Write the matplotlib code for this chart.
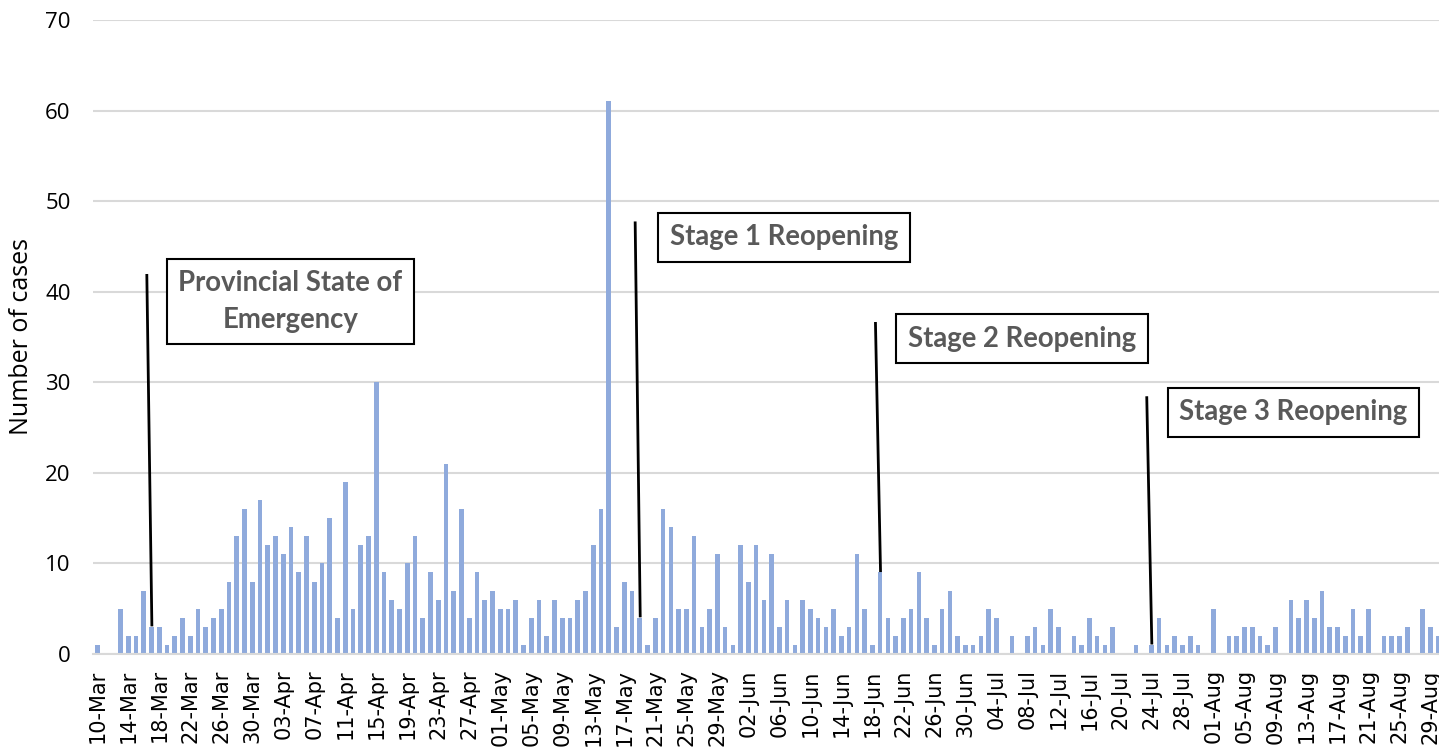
import numpy as np
import pandas as pd
import matplotlib
matplotlib.use("Agg")
import matplotlib.pyplot as plt

# --- daily case counts, 10-Mar to 30-Aug ---
start_date = "2020-03-10"
cases = [
    1, 0, 0, 5, 2, 2, 7, 3, 3, 1, 2, 4, 2, 5, 3, 4, 5, 8, 13, 16, 8, 17,      # Mar
    12, 13, 11, 14, 9, 13, 8, 10, 15, 4, 19, 5, 12, 13, 30, 9, 6, 5, 10, 13,  # Apr
    4, 9, 6, 21, 7, 16, 4, 9, 6, 7,
    5, 5, 6, 1, 4, 6, 2, 6, 4, 4, 6, 7, 12, 16, 61, 3, 8, 7, 4, 1, 4, 16,     # May
    14, 5, 5, 13, 3, 5, 11, 3, 1,
    12, 8, 12, 6, 11, 3, 6, 1, 6, 5, 4, 3, 5, 2, 3, 11, 5, 1, 9, 4, 2, 4,     # Jun
    5, 9, 4, 1, 5, 7, 2, 1,
    1, 2, 5, 4, 0, 2, 0, 2, 3, 1, 5, 3, 0, 2, 1, 4, 2, 1, 3, 0, 0, 1, 0, 1,   # Jul
    4, 1, 2, 1, 2, 1, 0,
    5, 0, 2, 2, 3, 3, 2, 1, 3, 0, 6, 4, 6, 4, 7, 3, 3, 2, 5, 2, 5, 0, 2, 2,   # Aug
    2, 3, 0, 5, 3, 2,
]
dates = pd.date_range(start_date, periods=len(cases), freq="D")

# --- events: (label, date of event) ---
event_labels = ["Provincial State of\nEmergency", "Stage 1 Reopening",
                "Stage 2 Reopening", "Stage 3 Reopening"]
event_dates = ["2020-03-17", "2020-05-19", "2020-06-19", "2020-07-24"]

bar_color = "#8FAADC"
grid_color = "#D9D9D9"
text_grey = "#595959"

fig = plt.figure(figsize=(14.39, 7.48), dpi=100)
ax = fig.add_axes([0.0646, 0.1257, 0.9354, 0.8476])

x = np.arange(len(cases))
ax.bar(x, cases, width=0.6, color=bar_color, zorder=2)

ax.set_xlim(-0.55, 173.1)
ax.set_ylim(0, 70)
ax.set_yticks(range(0, 71, 10))
ax.yaxis.grid(True, color=grid_color, linewidth=1.5)
ax.set_axisbelow(True)

tick_idx = x[::4]
ax.set_xticks(tick_idx)
ax.set_xticklabels([dates[i].strftime("%d-%b") for i in tick_idx],
                   rotation=90, fontsize=15, family="DejaVu Sans")
ax.tick_params(axis="x", length=0, pad=11)
ax.tick_params(axis="y", length=0, pad=16, labelsize=16)
for lab in ax.get_yticklabels():
    lab.set_family("Open Sans")

for s in ["top", "right", "left"]:
    ax.spines[s].set_visible(False)
ax.spines["bottom"].set_color(grid_color)
ax.spines["bottom"].set_linewidth(1.5)

ax.set_ylabel("Number of cases", fontsize=18, family="Open Sans", labelpad=8)

# --- event markers: line from label down to the day's bar ---
line_tops = [41.8, 47.6, 36.5, 28.3]
box_pos = [(24.9, 38.9), (88.6, 46.0), (119.3, 34.8), (154.3, 26.7)]
for lab, d, top, (bx, by) in zip(event_labels, event_dates, line_tops, box_pos):
    i = (pd.Timestamp(d) - dates[0]).days
    ax.plot([i - 0.6, i + 0.05], [top, cases[i] + 0.2], color="black",
            linewidth=2, zorder=3)
    ax.text(bx, by, lab, ha="center", va="center", fontsize=19.8,
            fontweight="bold", color=text_grey, family="Lato",
            linespacing=1.5, zorder=4,
            bbox=dict(boxstyle="square,pad=0.42", facecolor="white",
                      edgecolor="black", linewidth=1.5))

fig.savefig("out.png", dpi=100)
